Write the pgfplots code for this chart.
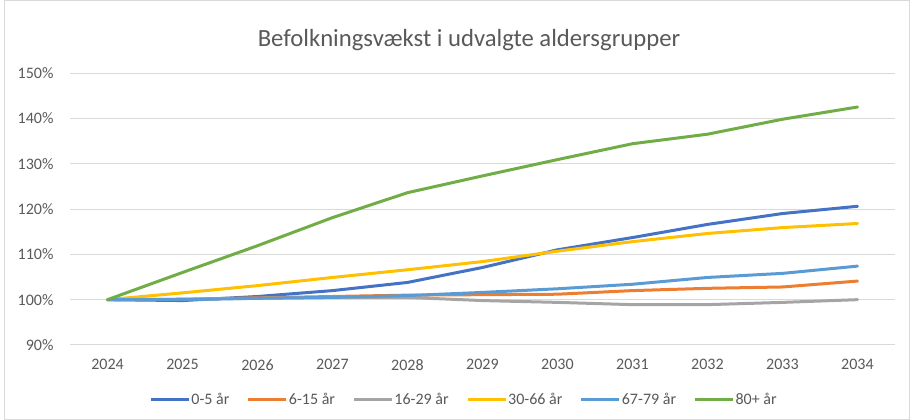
\documentclass[border=0pt]{standalone}
\usepackage{pgfplots}
\pgfplotsset{compat=1.18}
\usepackage{fontspec}
\setmainfont{Carlito}
\definecolor{cBlue}{HTML}{4472C4}
\definecolor{cOrange}{HTML}{ED7D31}
\definecolor{cGray}{HTML}{A5A5A5}
\definecolor{cGold}{HTML}{FFC000}
\definecolor{cLBlue}{HTML}{5B9BD5}
\definecolor{cGreen}{HTML}{70AD47}
\definecolor{gridc}{HTML}{D9D9D9}
\definecolor{txt}{HTML}{595959}
\begin{document}
\begin{tikzpicture}
\path[use as bounding box] (0,0) rectangle (910pt,420pt);
\draw[gridc, line width=1pt] (4.5pt,0.5pt) rectangle (909.5pt,419.5pt);
\node[text=txt, font=\fontsize{24.7}{29}\selectfont] at (469pt,380pt) {Befolkningsvækst i udvalgte aldersgrupper};
\begin{axis}[
  at={(70pt,75pt)}, anchor=south west,
  scale only axis, width=825pt, height=272pt,
  xmin=2023.5, xmax=2034.5, ymin=90, ymax=150,
  xtick={2024,...,2034},
  xticklabels={2024,2025,2026,2027,2028,2029,2030,2031,2032,2033,2034},
  ytick={90,100,...,150},
  yticklabels={90\%,100\%,110\%,120\%,130\%,140\%,150\%},
  /pgf/number format/assume math mode=true,
  axis line style={draw=none},
  major tick length=0pt,
  ymajorgrids, grid style={gridc, line width=1pt},
  tick label style={text=txt, font=\fontsize{16}{19}\selectfont},
  xticklabel style={yshift=-11pt},
  yticklabel style={xshift=-13pt},
  every axis plot/.append style={line width=3pt, line join=round, line cap=round},
  legend columns=6,
  legend style={at={(axis description cs:0.477,-0.202)}, anchor=center, draw=none,
    font=\fontsize{16}{19}\selectfont, text=txt,
    nodes={inner xsep=1pt, inner ysep=1pt},
    /tikz/every odd column/.append style={column sep=0pt},
    /tikz/every even column/.append style={column sep=16.5pt},
    inner sep=0pt},
  legend cell align=left,
  legend image code/.code={\draw[#1, line width=3pt, line cap=butt] (0pt,0pt) -- (38pt,0pt);},
  clip=false,
]
\addplot[draw=cBlue] coordinates {(2024,100) (2025,99.8) (2026,100.7) (2027,102.0) (2028,103.8) (2029,107.1) (2030,111.0) (2031,113.7) (2032,116.6) (2033,119.0) (2034,120.6)};
\addlegendentry{0-5 år}
\addplot[draw=cOrange] coordinates {(2024,100) (2025,100.1) (2026,100.4) (2027,100.7) (2028,101.0) (2029,101.1) (2030,101.2) (2031,102.0) (2032,102.5) (2033,102.8) (2034,104.1)};
\addlegendentry{6-15 år}
\addplot[draw=cGray] coordinates {(2024,100) (2025,100.1) (2026,100.3) (2027,100.5) (2028,100.5) (2029,99.8) (2030,99.4) (2031,98.9) (2032,98.9) (2033,99.4) (2034,100.0)};
\addlegendentry{16-29 år}
\addplot[draw=cGold] coordinates {(2024,100) (2025,101.5) (2026,103.1) (2027,104.9) (2028,106.6) (2029,108.4) (2030,110.7) (2031,112.8) (2032,114.6) (2033,115.9) (2034,116.8)};
\addlegendentry{30-66 år}
\addplot[draw=cLBlue] coordinates {(2024,100) (2025,100.0) (2026,100.3) (2027,100.5) (2028,100.9) (2029,101.6) (2030,102.4) (2031,103.4) (2032,104.9) (2033,105.8) (2034,107.4)};
\addlegendentry{67-79 år}
\addplot[draw=cGreen] coordinates {(2024,100) (2025,106.0) (2026,111.9) (2027,118.1) (2028,123.6) (2029,127.3) (2030,130.9) (2031,134.4) (2032,136.5) (2033,139.8) (2034,142.5)};
\addlegendentry{80+ år}
\end{axis}
\end{tikzpicture}
\end{document}
